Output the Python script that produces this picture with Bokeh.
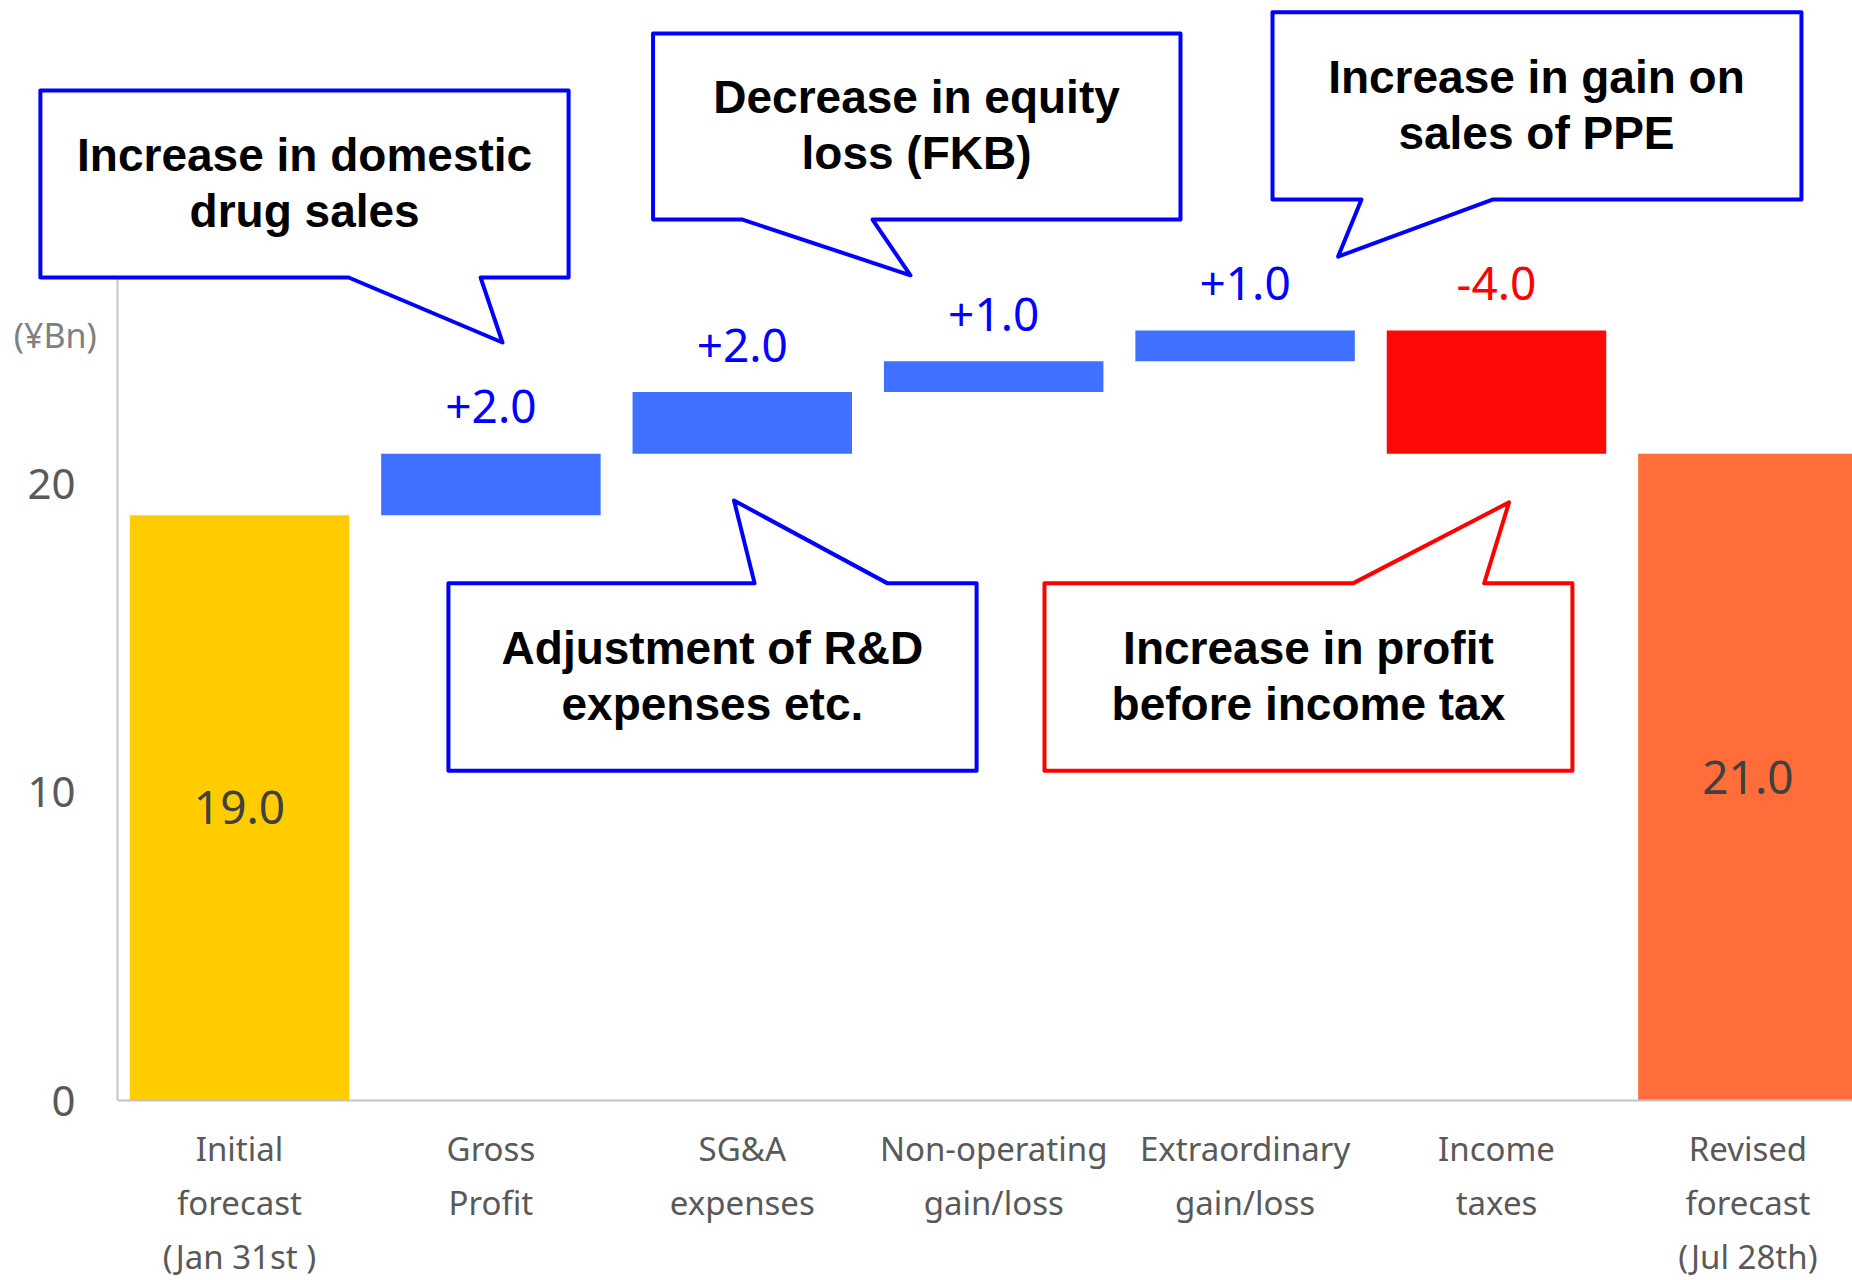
from bokeh.plotting import figure
from bokeh.models import Range1d, FixedTicker, Span, ColumnDataSource
from bokeh.core.properties import value
from bokeh.embed import file_html
from bokeh.resources import INLINE

# ---------------- data ----------------
categories = [
    "Initial\nforecast\n(Jan 31st )",
    "Gross\nProfit",
    "SG&A\nexpenses",
    "Non-operating\ngain/loss",
    "Extraordinary\ngain/loss",
    "Income\ntaxes",
    "Revised\nforecast\n(Jul 28th)",
]
start_value = 19.0
changes = [2.0, 2.0, 1.0, 1.0, -4.0]
end_value = 21.0
y_ticks = [0, 10, 20]
unit_label = "(¥Bn)"

callout_texts = [
    "Increase in domestic\ndrug sales",
    "Decrease in equity\nloss (FKB)",
    "Increase in gain on\nsales of PPE",
    "Adjustment of R&D\nexpenses etc.",
    "Increase in profit\nbefore income tax",
]
callout_colors = ["#0000FF", "#0000FF", "#0000FF", "#0000FF", "#FF0000"]
# callout outlines (data units: x = category index, y = ¥Bn)
callout_xs = [
    [-0.792, 1.309, 1.309, 0.959, 1.046, 0.434, -0.792],
    [1.645, 3.743, 3.743, 2.518, 2.669, 2.001, 1.645],
    [4.109, 6.213, 6.213, 4.984, 4.370, 4.463, 4.109],
    [0.831, 2.049, 1.967, 2.578, 2.932, 2.932, 0.831],
    [3.202, 4.429, 5.050, 4.951, 5.302, 5.302, 3.202],
]
callout_ys = [
    [32.79, 32.79, 26.72, 26.72, 24.61, 26.72, 26.72],
    [34.64, 34.64, 28.60, 28.60, 26.79, 28.60, 28.60],
    [35.33, 35.33, 29.25, 29.25, 27.40, 29.25, 29.25],
    [16.79, 16.79, 19.48, 16.79, 16.79, 10.71, 10.71],
    [16.79, 16.79, 19.42, 16.79, 16.79, 10.71, 10.71],
]
callout_text_x = [0.259, 2.693, 5.159, 1.881, 4.252]
callout_text_y = [29.71, 31.61, 32.26, 13.73, 13.73]

# ---------------- styles ----------------
YELLOW = "#FFCC00"
BLUE = "#4070FF"
RED = "#FF0808"
ORANGE = "#FF6E3A"
AXIS_GRAY = "#C4C4C4"
LABEL_GRAY = "#595959"

# ---------------- waterfall geometry from data ----------------
n = len(categories)
xs = list(range(n))
bottoms = [0.0]
tops = [start_value]
colors = [YELLOW]
level = start_value
for d in changes:
    new = level + d
    bottoms.append(min(level, new))
    tops.append(max(level, new))
    colors.append(BLUE if d > 0 else RED)
    level = new
bottoms.append(0.0)
tops.append(end_value)
colors.append(ORANGE)

bar_src = ColumnDataSource(dict(x=xs, bottom=bottoms, top=tops, color=colors))

p = figure(
    width=1852, height=1280,
    x_range=Range1d(-0.4853, 6.4161),
    y_range=Range1d(-5.844, 35.714),
    output_backend="svg", toolbar_location=None,
    x_axis_location=None,
    min_border_left=117, min_border_right=0,
    min_border_top=0, min_border_bottom=0,
)
p.outline_line_color = None
p.grid.visible = False
p.background_fill_color = "white"
p.border_fill_color = "white"

p.vbar(x="x", bottom="bottom", top="top", width=0.873, fill_color="color",
       line_color=None, source=bar_src)

# x axis line at zero
p.add_layout(Span(location=0, dimension="width", line_color=AXIS_GRAY, line_width=2))

# y axis
yax = p.yaxis[0]
yax.ticker = FixedTicker(ticks=y_ticks)
yax.bounds = (0, 29)
yax.major_tick_out = 0
yax.major_tick_in = 0
yax.minor_tick_out = 0
yax.minor_tick_in = 0
yax.axis_line_color = AXIS_GRAY
yax.axis_line_width = 2
yax.major_label_text_font = "Noto Sans"
yax.major_label_text_font_size = "42px"
yax.major_label_text_color = LABEL_GRAY
yax.major_label_standoff = 42

# category labels under the zero line
lab_x, lab_y, lab_t, lab_off = [], [], [], []
for i, c in enumerate(categories):
    for j, line in enumerate(c.split("\n")):
        lab_x.append(i)
        lab_y.append(0)
        lab_t.append(line)
        lab_off.append(48 + 54 * j)
p.text(x="x", y="y", text="t", y_offset="off",
       source=ColumnDataSource(dict(x=lab_x, y=lab_y, t=lab_t, off=lab_off)),
       text_font=value("Noto Sans"), text_font_size="33px", text_color=LABEL_GRAY,
       text_align="center", text_baseline="middle")

# change labels above the floating bars
chg_x = xs[1:1 + len(changes)]
chg_y = tops[1:1 + len(changes)]
chg_t = [f"{d:+.1f}" for d in changes]
chg_c = ["#0000FF" if d > 0 else "#FF0000" for d in changes]
p.text(x="x", y="y", text="t", text_color="c",
       source=ColumnDataSource(dict(x=chg_x, y=chg_y, t=chg_t, c=chg_c)),
       y_offset=-47, text_font=value("Noto Sans"), text_font_size="46px",
       text_align="center", text_baseline="middle")

# totals inside bars
tot_x = [xs[0], xs[-1]]
tot_y = [start_value / 2, end_value / 2]
tot_t = [f"{start_value:.1f}", f"{end_value:.1f}"]
p.text(x=tot_x, y=tot_y, text=tot_t, text_color="#404040",
       text_font=value("Noto Sans"), text_font_size="46px",
       text_align="center", text_baseline="middle")

# unit label
p.text(x=[-0.733], y=[24.84], text=[unit_label], text_color="#808080",
       text_font=value("Noto Sans"), text_font_size="34px",
       text_align="center", text_baseline="middle", level="overlay")

# callouts
p.patches(xs=callout_xs, ys=callout_ys, fill_color="white", line_color=callout_colors,
          line_width=4, line_join="round", level="overlay")
ct_x, ct_y, ct_t, ct_off = [], [], [], []
for k, txt in enumerate(callout_texts):
    lines = txt.split("\n")
    m = len(lines)
    for j, line in enumerate(lines):
        ct_x.append(callout_text_x[k])
        ct_y.append(callout_text_y[k])
        ct_t.append(line)
        ct_off.append((j - (m - 1) / 2) * 56 - 2)
p.text(x="x", y="y", text="t", y_offset="off",
       source=ColumnDataSource(dict(x=ct_x, y=ct_y, t=ct_t, off=ct_off)),
       text_font=value("Liberation Sans"), text_font_style="bold",
       text_font_size="46px", text_color="black",
       text_align="center", text_baseline="middle", level="overlay")

open("out.html", "w").write(file_html(p, INLINE))
